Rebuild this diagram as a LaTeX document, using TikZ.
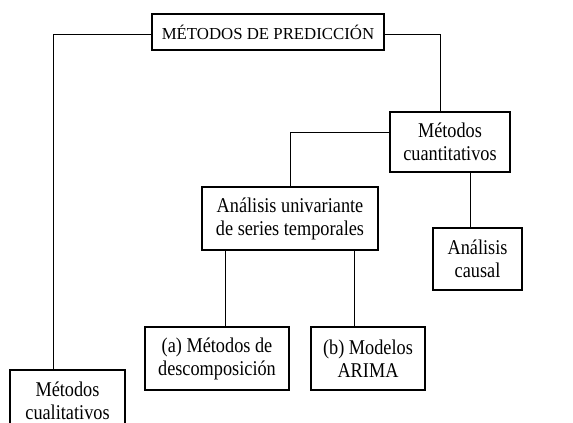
\documentclass[tikz,border=0pt]{standalone}
\usepackage{fontspec}
\setmainfont{Liberation Serif}[FakeStretch=0.87]
\newfontfamily\capsfont{Liberation Serif}
\usepackage{tikz}
\usetikzlibrary{positioning,calc}

\begin{document}
\begin{tikzpicture}[
    x=1pt, y=-1pt,
    box/.style={rectangle, draw, line width=1.8pt, align=center, inner sep=0pt, font=\fontsize{21}{23}\selectfont},
    topbox/.style={box, font=\capsfont\fontsize{16.8}{19}\selectfont},
    link/.style={line width=1pt}
]
\useasboundingbox (0,0) rectangle (573,423);
\clip (0,0) rectangle (573,423);

\node[topbox, minimum width=232pt, minimum height=36pt] (pred) at (268,32) {MÉTODOS DE PREDICCIÓN};
\node[box, minimum width=120pt, minimum height=60pt] (cuant) at (450,142) {Métodos\\cuantitativos};
\node[box, minimum width=176pt, minimum height=63pt] (univ) at (290,218.5) {Análisis univariante\\de series temporales};
\node[box, minimum width=89pt, minimum height=62pt] (causal) at (477.5,259) {Análisis\\causal};
\node[box, minimum width=144pt, minimum height=63pt] (desc) at (217,358.5) {(a) Métodos de\\descomposición};
\node[box, minimum width=114pt, minimum height=63pt] (arima) at (368,358.5) {(b) Modelos\\ARIMA};
\node[box, minimum width=115pt, minimum height=62pt] (cual) at (67.5,401) {Métodos\\cualitativos};

\draw[link] ([yshift=-2pt]pred.west) -| ([xshift=-14.5pt]cual.north);
\draw[link] ([yshift=-2pt]pred.east) -| ([xshift=-10pt]cuant.north);
\draw[link] ([yshift=10pt]cuant.west) -| (univ.north);
\draw[link] ([xshift=20pt]cuant.south) -- ([xshift=20pt]cuant.south |- causal.north);
\draw[link] ([xshift=-65pt]univ.south) -- ([xshift=-65pt]univ.south |- desc.north);
\draw[link] ([xshift=64pt]univ.south) -- ([xshift=64pt]univ.south |- arima.north);

\end{tikzpicture}
\end{document}
